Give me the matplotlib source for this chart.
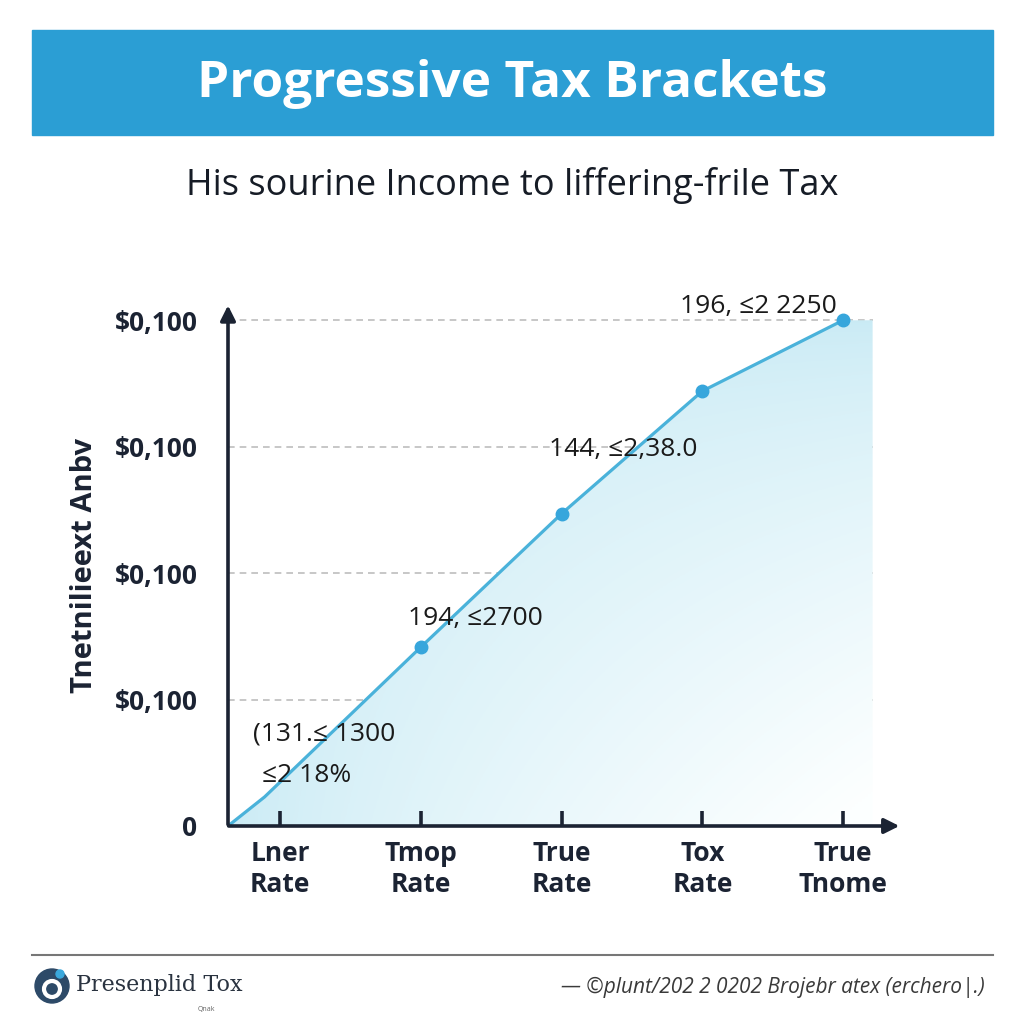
import numpy as np
import matplotlib
matplotlib.use("Agg")
import matplotlib.pyplot as plt
from matplotlib.patches import Polygon, Rectangle, Circle

# ---- data ----
line_x = [-0.37, -0.11, 1, 2, 3, 4]
line_y = [0.0, 0.23, 1.415, 2.47, 3.44, 4.0]
point_x = [1, 2, 3, 4]
point_y = [1.415, 2.47, 3.44, 4.0]
fill_end_x = 4.21

x_ticks = [0, 1, 2, 3, 4]
x_labels = ["Lner\nRate", "Tmop\nRate", "True\nRate", "Tox\nRate", "True\nTnome"]
y_ticks = [0, 1, 2, 3, 4]
y_labels = ["0", "$0,100", "$0,100", "$0,100", "$0,100"]

ann_text = ["196, ≤2 2250", "144, ≤2,38.0", "194, ≤2700", "(131.≤ 1300", "≤2 18%"]
ann_x = [3.40, 2.44, 1.385, -0.19, -0.13]
ann_y = [4.11, 2.98, 1.64, 0.73, 0.40]
ann_ha = ["center", "center", "center", "left", "left"]

title = "Progressive Tax Brackets"
subtitle = "His sourine Income to liffering-frile Tax"
ylabel = "Tnetnilieext Anbv"
footer_left = "Presenplid Tox"
footer_small = "Qnak"
footer_right = "— ©plunt/202 2 0202 Brojebr atex (erchero|.)"

DARK = "#1b2333"
BLUE = "#2b9ed4"
LINE = "#4ab2da"
FONT = "Open Sans"

fig = plt.figure(figsize=(10.24, 10.24), dpi=100)
fig.patch.set_facecolor("white")

# title banner
fig.patches.append(Rectangle((32 / 1024, 1 - 135 / 1024), 961 / 1024, 105 / 1024,
                             transform=fig.transFigure, color=BLUE, zorder=0))
fig.text(0.5, 1 - 84 / 1024, title, ha="center", va="center", color="white",
         fontsize=37, fontweight="bold", family=FONT)
fig.text(0.5, 1 - 185 / 1024, subtitle, ha="center", va="center", color="#161c26",
         fontsize=26, family=FONT)

# main axes
ax = fig.add_axes([228 / 1024, 198 / 1024, 678.4 / 1024, 531 / 1024])
ax.set_xlim(-0.37, 4.45)
ax.set_ylim(0, 4.2)
for s in ax.spines.values():
    s.set_visible(False)
ax.set_facecolor("none")

# gradient fill under the line: blue along top/left, fading to white bottom-right
poly_xy = list(zip(line_x, line_y)) + [(fill_end_x, line_y[-1]), (fill_end_x, 0)]
poly = Polygon(poly_xy, closed=True, facecolor="none", edgecolor="none")
ax.add_patch(poly)
gx, gy = np.meshgrid(np.linspace(0, 1, 200), np.linspace(0, 1, 200))  # gy: 0 top, 1 bottom
t = np.clip((gx * gy) ** 0.7 * 1.05, 0, 1)
c0 = np.array([0.79, 0.92, 0.96])
c1 = np.array([0.99, 1.0, 1.0])
img = c0[None, None, :] * (1 - t[..., None]) + c1[None, None, :] * t[..., None]
im = ax.imshow(img, extent=[line_x[0], fill_end_x, 0, line_y[-1]], origin="upper",
               aspect="auto", zorder=1)
im.set_clip_path(poly)

# grid lines
ax.hlines(y_ticks[1:], line_x[0], fill_end_x, colors="#bdbdbd", linestyles=(0, (4, 3)),
          linewidth=1.2, zorder=0.5)

ax.plot(line_x, line_y, color=LINE, lw=2.3, zorder=3)
ax.plot(point_x, point_y, "o", color="#37a6dc", ms=9, zorder=4)

# axes with arrows
ax.annotate("", xy=(4.42, 0), xytext=(-0.385, 0),
            arrowprops=dict(arrowstyle="-|>,head_length=0.9,head_width=0.45", color=DARK, lw=2.6),
            zorder=5, annotation_clip=False)
ax.annotate("", xy=(-0.37, 4.14), xytext=(-0.37, -0.01),
            arrowprops=dict(arrowstyle="-|>,head_length=0.9,head_width=0.45", color=DARK, lw=2.6),
            zorder=5, annotation_clip=False)

ax.set_xticks(x_ticks)
ax.set_xticklabels(x_labels, fontsize=19, fontweight="bold", family=FONT, color=DARK,
                   linespacing=1.2)
ax.tick_params(axis="x", direction="in", length=11, width=2.6, color=DARK, pad=10)
ax.set_yticks(y_ticks)
ax.set_yticklabels(y_labels, fontsize=19, fontweight="bold", family=FONT, color=DARK)
ax.tick_params(axis="y", length=0, pad=22)

for txt, x, y, ha in zip(ann_text, ann_x, ann_y, ann_ha):
    ax.text(x, y, txt, ha=ha, va="center", fontsize=19, family=[FONT, "DejaVu Sans"],
            color="#1a1a1a", zorder=6)

fig.text(85 / 1024, 1 - 565 / 1024, ylabel, rotation=90, ha="center", va="center",
         fontsize=21, fontweight="bold", family=FONT, color=DARK)

# footer
fig.add_artist(plt.Line2D([32 / 1024, 993 / 1024], [1 - 955 / 1024] * 2,
                          transform=fig.transFigure, color="#777777", lw=1.5))
fig.patches.append(Circle((52 / 1024, 1 - 986 / 1024), 17 / 1024, transform=fig.transFigure,
                          color="#2d4a68", zorder=2))
fig.patches.append(Circle((52 / 1024, 1 - 989 / 1024), 8 / 1024, transform=fig.transFigure,
                          facecolor="none", edgecolor="white", lw=3, zorder=3))
fig.patches.append(Circle((60 / 1024, 1 - 974 / 1024), 4 / 1024, transform=fig.transFigure,
                          color="#3aa8dc", zorder=4))
fig.text(76 / 1024, 1 - 985 / 1024, footer_left, ha="left", va="center", fontsize=16,
         family="DejaVu Serif", color="#2a3340")
fig.text(206 / 1024, 1 - 1010 / 1024, footer_small, ha="center", va="center", fontsize=5,
         family=FONT, color="#666666")
fig.text(985 / 1024, 1 - 987 / 1024, footer_right, ha="right", va="center", fontsize=15,
         family=FONT, style="italic", color="#3a3a3a")

fig.savefig("out.png", dpi=100)
